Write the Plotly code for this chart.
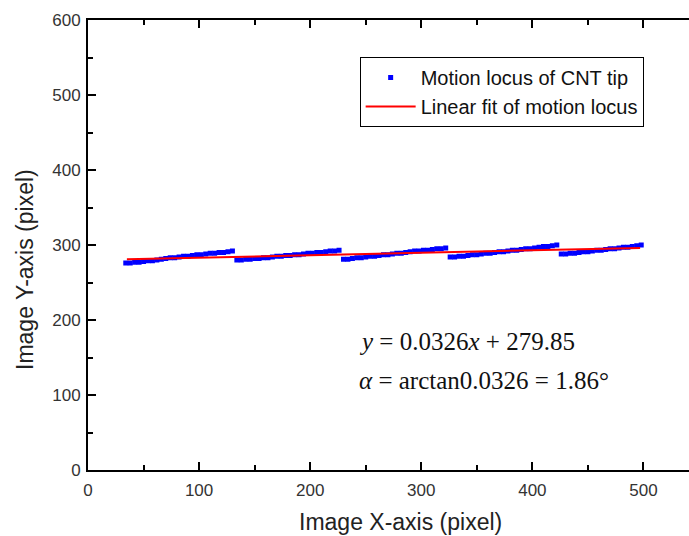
import plotly.graph_objects as go

# Tracked tip positions, one list per sweep of the sawtooth motion
seg1_x = [34, 38, 42, 46, 50, 54, 58, 62, 66, 70, 74, 78, 82, 86, 90, 94, 98, 102, 106, 110, 114, 118, 122, 126, 130]
seg1_y = [276, 276, 277, 277, 278, 279, 279, 280, 281, 282, 283, 283, 284, 285, 285, 286, 287, 287, 288, 289, 289, 290, 290, 291, 292]

seg2_x = [134, 138, 142, 146, 150, 154, 158, 162, 166, 170, 174, 178, 182, 186, 190, 194, 198, 202, 206, 210, 214, 218, 222, 226]
seg2_y = [280, 280, 281, 281, 282, 282, 283, 283, 284, 285, 285, 286, 286, 287, 287, 288, 289, 289, 290, 290, 291, 292, 292, 293]

seg3_x = [230, 234, 238, 242, 246, 250, 254, 258, 262, 266, 270, 274, 278, 282, 286, 290, 294, 298, 302, 306, 310, 314, 318, 322]
seg3_y = [281, 281, 282, 283, 283, 284, 285, 285, 286, 287, 287, 288, 289, 289, 290, 291, 292, 292, 293, 293, 294, 295, 295, 296]

seg4_x = [326, 330, 334, 338, 342, 346, 350, 354, 358, 362, 366, 370, 374, 378, 382, 386, 390, 394, 398, 402, 406, 410, 414, 418, 422]
seg4_y = [284, 284, 285, 285, 286, 287, 287, 288, 289, 289, 290, 291, 291, 292, 293, 293, 294, 295, 295, 296, 297, 298, 298, 299, 300]

seg5_x = [426, 430, 434, 438, 442, 446, 450, 454, 458, 462, 466, 470, 474, 478, 482, 486, 490, 494, 498]
seg5_y = [288, 288, 289, 289, 290, 291, 291, 292, 293, 293, 294, 295, 295, 296, 297, 297, 298, 299, 300]

locus_x = seg1_x + seg2_x + seg3_x + seg4_x + seg5_x
locus_y = seg1_y + seg2_y + seg3_y + seg4_y + seg5_y

# Linear fit parameters
fit_slope = 0.0326
fit_intercept = 279.85
fit_x = [35, 497]
fit_y = [fit_slope * v + fit_intercept for v in fit_x]

x_ticks = [0, 100, 200, 300, 400, 500]
y_ticks = [0, 100, 200, 300, 400, 500, 600]

fig = go.Figure()
fig.add_trace(go.Scatter(
    x=locus_x, y=locus_y, mode="markers",
    marker=dict(symbol="square", size=5, color="#0000FF", line=dict(width=0)),
    name="Motion locus of CNT tip",
))
fig.add_trace(go.Scatter(
    x=fit_x, y=fit_y, mode="lines",
    line=dict(color="#FF0000", width=2),
    name="Linear fit of motion locus",
))

axis_font = dict(family="Liberation Sans, Arial, sans-serif", size=17, color="#333333")

fig.update_layout(
    width=689, height=536,
    margin=dict(l=88, r=0, t=20, b=66),
    paper_bgcolor="white", plot_bgcolor="white",
    font=dict(family="Liberation Sans, Arial, sans-serif"),
    showlegend=True,
    legend=dict(
        x=0.452, y=0.918, xanchor="left", yanchor="top",
        bgcolor="white", bordercolor="#000000", borderwidth=1,
        font=dict(family="Liberation Sans, Arial, sans-serif", size=20, color="#111111"),
        itemwidth=50, tracegroupgap=0,
    ),
    xaxis=dict(
        range=[0, 541], tickvals=x_ticks, ticktext=[str(v) for v in x_ticks],
        showgrid=False, zeroline=False,
        showline=True, linecolor="black", linewidth=2, mirror="ticks",
        ticks="inside", ticklen=8, tickwidth=2, tickcolor="black",
        tickfont=axis_font, ticklabelstandoff=4,
        minor=dict(dtick=50, tick0=0, ticks="inside", ticklen=5, tickwidth=2, tickcolor="black", showgrid=False),
    ),
    yaxis=dict(
        range=[0, 600], tickvals=y_ticks, ticktext=[str(v) for v in y_ticks],
        showgrid=False, zeroline=False,
        showline=True, linecolor="black", linewidth=2, mirror=False,
        ticks="inside", ticklen=8, tickwidth=2, tickcolor="black",
        tickfont=axis_font, ticklabelstandoff=2,
        minor=dict(dtick=50, tick0=0, ticks="inside", ticklen=5, tickwidth=2, tickcolor="black", showgrid=False),
    ),
)

# Axis titles
title_font = dict(family="Liberation Sans, Arial, sans-serif", size=23, color="#222222")
fig.add_annotation(
    text="Image X-axis (pixel)", xref="paper", yref="paper",
    x=(400 - 88) / 601, y=-(522 - 470) / 450, xanchor="center", yanchor="middle",
    showarrow=False, font=title_font,
)
fig.add_annotation(
    text="Image Y-axis (pixel)", xref="paper", yref="paper",
    x=-(88 - 25) / 601, y=1 - (270 - 20) / 450, xanchor="center", yanchor="middle",
    textangle=-90,
    showarrow=False, font=title_font,
)

# Fit equation
eq_font = dict(family="Liberation Serif, Times New Roman, serif", size=25, color="#111111")
fig.add_annotation(
    text="<i>y</i> = 0.0326<i>x</i> + 279.85", xref="x", yref="y",
    x=242, y=171, xanchor="left", yanchor="middle", showarrow=False, font=eq_font,
)
fig.add_annotation(
    text="<i>α</i> = arctan0.0326 = 1.86°", xref="x", yref="y",
    x=242, y=119, xanchor="left", yanchor="middle", showarrow=False, font=eq_font,
)

fig.write_html("out.html")
